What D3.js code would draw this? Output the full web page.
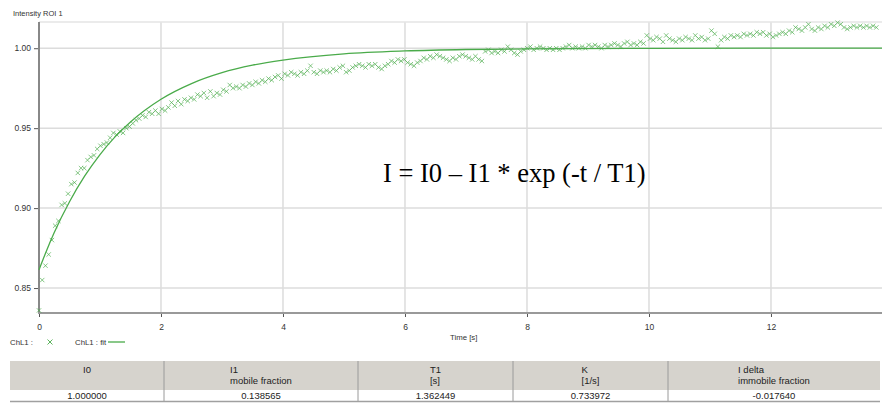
<!DOCTYPE html>
<html>
<head>
<meta charset="utf-8">
<script src="https://cdn.jsdelivr.net/npm/d3@7"></script>
<style>
  body { margin: 0; background: #fff; }
  svg { display: block; font-family: "Liberation Sans", Arial, sans-serif; }
</style>
</head>
<body>
<svg id="chart" width="882" height="404"></svg>
<script>
// measured intensity of ROI 1, one value per frame
var sampleInterval = 0.053; // seconds between frames
var intensity = [
  0.836, 0.855, 0.864, 0.871, 0.880, 0.889, 0.892, 0.902, 0.903, 0.909,
  0.915, 0.916, 0.922, 0.925, 0.925, 0.930, 0.932, 0.933, 0.937, 0.939,
  0.940, 0.941, 0.944, 0.947, 0.946, 0.948, 0.947, 0.950, 0.951, 0.953,
  0.955, 0.956, 0.958, 0.957, 0.960, 0.959, 0.961, 0.959, 0.962, 0.961,
  0.963, 0.966, 0.964, 0.967, 0.965, 0.968, 0.967, 0.969, 0.968, 0.971,
  0.970, 0.972, 0.969, 0.973, 0.970, 0.972, 0.971, 0.974, 0.973, 0.977,
  0.975, 0.976, 0.975, 0.977, 0.976, 0.978, 0.977, 0.979, 0.978, 0.980,
  0.979, 0.981, 0.980, 0.982, 0.983, 0.981, 0.984, 0.983, 0.985, 0.984,
  0.983, 0.985, 0.984, 0.986, 0.989, 0.985, 0.984, 0.986, 0.985, 0.986,
  0.985, 0.987, 0.986, 0.988, 0.989, 0.985, 0.986, 0.988, 0.989, 0.990,
  0.989, 0.988, 0.990, 0.989, 0.990, 0.988, 0.987, 0.989, 0.990, 0.992,
  0.991, 0.993, 0.992, 0.993, 0.991, 0.990, 0.989, 0.991, 0.992, 0.994,
  0.993, 0.995, 0.994, 0.996, 0.995, 0.994, 0.993, 0.992, 0.994, 0.993,
  0.995, 0.996, 0.995, 0.994, 0.993, 0.995, 0.993, 0.992, 0.998, 0.999,
  0.997, 0.998, 0.997, 0.999, 0.998, 1.001, 0.999, 0.997, 0.996, 0.998,
  0.999, 1.000, 1.001, 0.999, 1.000, 1.001, 1.000, 0.999, 1.000, 0.999,
  1.000, 0.999, 1.000, 1.001, 1.002, 1.000, 1.001, 1.000, 1.001, 1.000,
  1.002, 1.001, 1.002, 1.001, 1.000, 1.002, 1.001, 1.002, 1.003, 1.002,
  1.001, 1.003, 1.004, 1.002, 1.003, 1.002, 1.004, 1.003, 1.008, 1.006,
  1.005, 1.007, 1.006, 1.004, 1.008, 1.006, 1.005, 1.004, 1.006, 1.005,
  1.007, 1.006, 1.005, 1.008, 1.006, 1.007, 1.005, 1.006, 1.011, 1.009,
  1.001, 1.005, 1.007, 1.006, 1.008, 1.007, 1.008, 1.007, 1.009, 1.008,
  1.009, 1.008, 1.010, 1.009, 1.010, 1.008, 1.009, 1.007, 1.008, 1.009,
  1.010, 1.009, 1.011, 1.010, 1.013, 1.012, 1.011, 1.013, 1.015, 1.012,
  1.011, 1.013, 1.012, 1.014, 1.013, 1.015, 1.014, 1.016, 1.015, 1.013,
  1.012, 1.013, 1.014, 1.013, 1.014, 1.013, 1.014, 1.013, 1.014, 1.013
];

// fitted curve read at these times
var fitTimes  = [0, 0.125, 0.25, 0.5, 0.75, 1, 1.25, 1.5, 2, 2.5, 3, 3.5, 4, 5, 6, 7, 8, 10, 12, 14];
var fitValues = [0.8614, 0.8735, 0.8847, 0.9040, 0.9201, 0.9335, 0.9447, 0.9539, 0.9681, 0.9779,
                 0.9847, 0.9894, 0.9926, 0.9965, 0.9983, 0.9992, 0.9996, 0.9999, 1.0000, 1.0000];

var xTicks = [0, 2, 4, 6, 8, 10, 12];
var yTicks = [0.85, 0.90, 0.95, 1.00];

// fit result table
var tableHeads = [['I0'], ['I1', 'mobile fraction'], ['T1', '[s]'], ['K', '[1/s]'], ['I delta', 'immobile fraction']];
var tableValues = ['1.000000', '0.138565', '1.362449', '0.733972', '-0.017640'];

var svg = d3.select('#chart');
var green = '#4aab4a';

var plot = {l: 39, t: 22, r: 882, b: 313};

var xScale = d3.scaleLinear().domain([0, 13.82]).range([plot.l, plot.r]);
var yScale = d3.scaleLinear().domain([0.8344, 1.0164]).range([plot.b, plot.t]);

// grid
svg.append('g').selectAll('line').data(xTicks.slice(1)).enter().append('line')
    .attr('x1', d => xScale(d)).attr('x2', d => xScale(d))
    .attr('y1', plot.t).attr('y2', plot.b)
    .attr('stroke', '#dcdcdc').attr('stroke-width', 1.5);
svg.append('g').selectAll('line').data(yTicks).enter().append('line')
    .attr('x1', plot.l).attr('x2', plot.r)
    .attr('y1', d => yScale(d)).attr('y2', d => yScale(d))
    .attr('stroke', '#dcdcdc').attr('stroke-width', 1.5);
svg.append('line').attr('x1', plot.l).attr('x2', plot.r).attr('y1', plot.t).attr('y2', plot.t)
    .attr('stroke', '#e4e4e4').attr('stroke-width', 1.5);

// axes
var yAxis = d3.axisLeft(yScale).tickValues(yTicks).tickFormat(d3.format('.2f')).tickSize(5).tickPadding(3);
var xAxis = d3.axisBottom(xScale).tickValues(xTicks).tickFormat(d3.format('d')).tickSize(4).tickPadding(7);

var gy = svg.append('g').attr('transform', 'translate(' + plot.l + ',0)').call(yAxis);
var gx = svg.append('g').attr('transform', 'translate(0,' + plot.b + ')').call(xAxis);
[gx, gy].forEach(function(g) {
    g.select('.domain').remove();
    g.selectAll('.tick line').attr('stroke', '#555');
    g.selectAll('.tick text').attr('fill', '#333').style('font-size', '8.5px')
        .style('font-family', '"Liberation Sans", Arial, sans-serif');
});
svg.append('line').attr('x1', plot.l).attr('x2', plot.l).attr('y1', plot.t).attr('y2', plot.b + 1)
    .attr('stroke', '#888').attr('stroke-width', 2);
svg.append('line').attr('x1', plot.l - 1).attr('x2', plot.r).attr('y1', plot.b).attr('y2', plot.b)
    .attr('stroke', '#999').attr('stroke-width', 2);

// data crosses
var points = intensity.map(function(v, i) { return {t: i * sampleInterval, v: v}; });
svg.append('g').selectAll('path').data(points).enter().append('path')
    .attr('transform', d => 'translate(' + xScale(d.t) + ',' + yScale(d.v) + ')')
    .attr('d', 'M-2.2,-2.2L2.2,2.2M-2.2,2.2L2.2,-2.2')
    .attr('stroke', green).attr('stroke-width', 0.9).attr('opacity', 0.75).attr('fill', 'none');

// fitted curve
var fitLine = d3.line().x(d => xScale(d[0])).y(d => yScale(d[1])).curve(d3.curveMonotoneX);
svg.append('path').datum(fitTimes.map((t, i) => [t, fitValues[i]]))
    .attr('d', fitLine).attr('fill', 'none').attr('stroke', green).attr('stroke-width', 1.3);

// labels
svg.append('text').attr('x', 13).attr('y', 16).text('Intensity ROI 1')
    .style('font-size', '7.5px').attr('fill', '#333');
svg.append('text').attr('x', 450).attr('y', 340).text('Time [s]')
    .style('font-size', '7.8px').attr('fill', '#333');
svg.append('text').attr('x', 383).attr('y', 182).text('I = I0 \u2013 I1 * exp (-t / T1)')
    .style('font-family', '"Liberation Serif", "Times New Roman", serif').style('font-size', '26.5px')
    .attr('fill', '#000');

// legend
var legend = svg.append('g').style('font-size', '7.8px').attr('fill', '#333');
legend.append('text').attr('x', 10).attr('y', 345).text('ChL1 :');
legend.append('path').attr('transform', 'translate(50,342)')
    .attr('d', 'M-2.5,-2.5L2.5,2.5M-2.5,2.5L2.5,-2.5').attr('stroke', green).attr('stroke-width', 0.9);
legend.append('text').attr('x', 75).attr('y', 345).text('ChL1 : fit');
legend.append('line').attr('x1', 108).attr('x2', 125).attr('y1', 342).attr('y2', 342)
    .attr('stroke', green).attr('stroke-width', 1.3);

// table
var colEdges = [10, 164, 358, 513, 668, 880];
var table = svg.append('g').style('font-size', '9.5px').attr('fill', '#222');
table.append('rect').attr('x', colEdges[0]).attr('y', 361).attr('width', colEdges[5] - colEdges[0]).attr('height', 29)
    .attr('fill', '#d6d3cd');
table.append('rect').attr('x', colEdges[0]).attr('y', 390).attr('width', colEdges[5] - colEdges[0]).attr('height', 11)
    .attr('fill', '#fff');
table.append('line').attr('x1', colEdges[0]).attr('x2', colEdges[5]).attr('y1', 401.5).attr('y2', 401.5)
    .attr('stroke', '#a0a0a0').attr('stroke-width', 1.5);
table.selectAll('line.sep').data(colEdges.slice(1, 5)).enter().append('line')
    .attr('class', 'sep')
    .attr('x1', d => d).attr('x2', d => d).attr('y1', 361).attr('y2', 401)
    .attr('stroke', '#9a9a9a').attr('stroke-width', 1);

tableHeads.forEach(function(lines, i) {
    var cx = (colEdges[i] + colEdges[i + 1]) / 2;
    var g = table.append('g');
    var texts = lines.map(function(s, j) {
        return g.append('text').attr('y', 373 + j * 11).text(s);
    });
    var widths = texts.map(t => t.node().getComputedTextLength());
    var maxW = d3.max(widths);
    texts.forEach(function(t, j) {
        if (lines.length === 1) t.attr('x', cx).attr('text-anchor', 'middle');
        else t.attr('x', cx - maxW / 2);
    });
});
table.selectAll('text.val').data(tableValues).enter().append('text')
    .attr('class', 'val')
    .attr('x', (d, i) => (colEdges[i] + colEdges[i + 1]) / 2)
    .attr('y', 399).attr('text-anchor', 'middle').text(d => d);
</script>
</body>
</html>
